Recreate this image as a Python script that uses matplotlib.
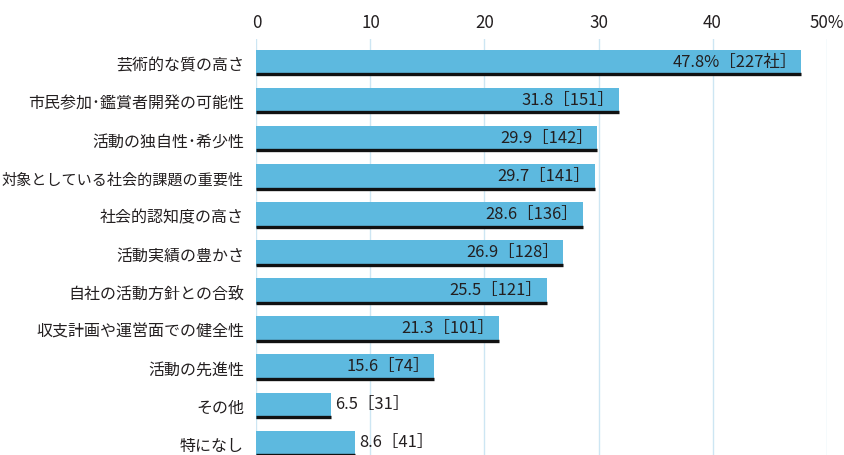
import matplotlib
matplotlib.use("Agg")
import matplotlib.pyplot as plt

plt.rcParams['font.family'] = ['Noto Sans CJK JP', 'DejaVu Sans']

categories = [
    "芸術的な質の高さ",
    "市民参加･鑑賞者開発の可能性",
    "活動の独自性･希少性",
    "対象としている社会的課題の重要性",
    "社会的認知度の高さ",
    "活動実績の豊かさ",
    "自社の活動方針との合致",
    "収支計画や運営面での健全性",
    "活動の先進性",
    "その他",
    "特になし",
]
percent = [47.8, 31.8, 29.9, 29.7, 28.6, 26.9, 25.5, 21.3, 15.6, 6.5, 8.6]
companies = [227, 151, 142, 141, 136, 128, 121, 101, 74, 31, 41]
tick_values = [0, 10, 20, 30, 40, 50]
tick_labels = ["0", "10", "20", "30", "40", "50%"]

BAR_COLOR = "#5db9df"
TEXT_COLOR = "#231f20"
GRID_COLOR = "#cde6f3"

fig = plt.figure(figsize=(8.45, 4.56), dpi=100)
ax = fig.add_axes([256.5 / 845, 0.0, (826.5 - 256.5) / 845, (456 - 40) / 456])

ax.set_xlim(0, 50)
ax.set_ylim(10.30, -0.631)

bar_h = 0.683
ypos = list(range(len(categories)))
ax.barh(ypos, percent, height=bar_h, color=BAR_COLOR, zorder=2)
# dark underline along the bottom edge of each bar
for y, v in zip(ypos, percent):
    ax.plot([0, v], [y + bar_h / 2 - 0.044] * 2, color="#111111", lw=2.4,
            solid_capstyle="butt", zorder=3)

for i, (y, v, n) in enumerate(zip(ypos, percent, companies)):
    if i == 0:
        label = f"{v:.1f}%［{n}社］"
    else:
        label = f"{v:.1f}［{n}］"
    if v > 12:
        ax.text(v - 0.4, y - 0.05, label, ha="right", va="center",
                fontsize=11.9, color=TEXT_COLOR, zorder=4)
    else:
        ax.text(v + 0.4, y - 0.05, label, ha="left", va="center",
                fontsize=11.9, color=TEXT_COLOR, zorder=4)

ax.set_yticks(ypos)
ax.set_yticklabels(categories, fontsize=11.5, color=TEXT_COLOR)
ax.get_yticklabels()[3].set_fontsize(10.9)
ax.tick_params(axis="y", length=0, pad=9)

ax.xaxis.tick_top()
ax.set_xticks(tick_values)
ax.set_xticklabels(tick_labels, fontsize=12.2, color=TEXT_COLOR)
ax.tick_params(axis="x", length=0, pad=6)

for t in tick_values:
    ax.axvline(t, color=GRID_COLOR, lw=1.0, zorder=1)

for s in ax.spines.values():
    s.set_visible(False)

fig.savefig("out.png", dpi=100)
